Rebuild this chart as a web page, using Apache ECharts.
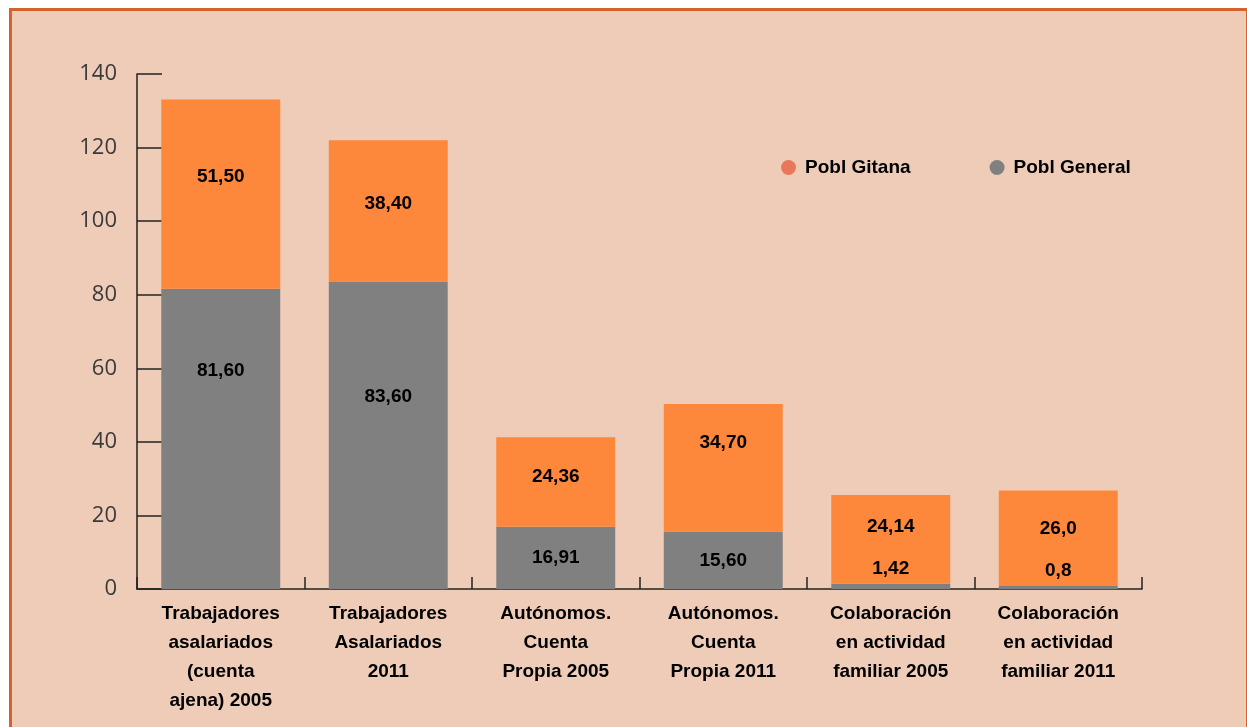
<!DOCTYPE html>
<html>
<head>
<meta charset="utf-8">
<script src="https://cdn.jsdelivr.net/npm/echarts@6/dist/echarts.min.js"></script>
<style>
  html, body { margin: 0; padding: 0; background: #fff; overflow: hidden; }
  .frame {
    position: absolute; left: 9px; top: 8px; width: 1240px; height: 740px;
    background: #eeccb8; border: 3px solid #d4622a; box-sizing: border-box;
  }
  #chart { position: absolute; left: 0; top: 0; width: 1247px; height: 727px; }
</style>
</head>
<body>
<div class="frame"></div>
<div id="chart"></div>
<script>
// categorias y valores
const categories = [
  'Trabajadores\nasalariados\n(cuenta\najena) 2005',
  'Trabajadores\nAsalariados\n2011',
  'Autónomos.\nCuenta\nPropia 2005',
  'Autónomos.\nCuenta\nPropia 2011',
  'Colaboración\nen actividad\nfamiliar 2005',
  'Colaboración\nen actividad\nfamiliar 2011'
]
const poblGeneral = [81.60, 83.60, 16.91, 15.60, 1.42, 0.8]
const poblGitana = [51.50, 38.40, 24.36, 34.70, 24.14, 26.0]
const generalText = ['81,60', '83,60', '16,91', '15,60', '1,42', '0,8']
const gitanaText = ['51,50', '38,40', '24,36', '34,70', '24,14', '26,0']

// desplazamiento vertical de las etiquetas (como en el original)
const generalDy = [-68, -38, 0, 0, -17, -17]
const gitanaDy = [-17, -7, -5, -25, -13, -9]

const labelFont = {
  fontFamily: '"Liberation Sans", Arial, sans-serif',
  fontWeight: 'bold',
  fontSize: 19,
  color: '#000'
}

const chart = echarts.init(document.getElementById('chart'))
chart.setOption({
  backgroundColor: 'transparent',
  animation: false,
  grid: { left: 137, right: 105, top: 74, bottom: 138 },
  legend: {
    top: 153,
    left: 776,
    itemGap: 79,
    icon: 'circle',
    itemWidth: 15,
    itemHeight: 15,
    textStyle: Object.assign({}, labelFont, { padding: [0, 0, 0, 4] }),
    data: [
      { name: 'Pobl Gitana', itemStyle: { color: '#e8785a' } },
      { name: 'Pobl General', itemStyle: { color: '#808080' } }
    ]
  },
  xAxis: {
    type: 'category',
    data: categories,
    axisLine: { lineStyle: { color: '#222', width: 1.5 } },
    axisTick: { show: true, inside: true, length: 12, lineStyle: { color: '#222', width: 1.5 } },
    axisLabel: Object.assign({}, labelFont, { lineHeight: 29, margin: 10, interval: 0 })
  },
  yAxis: {
    type: 'value',
    min: 0,
    max: 140,
    interval: 20,
    splitLine: { show: false },
    axisLine: { show: true, lineStyle: { color: '#222', width: 1.5 } },
    axisTick: { show: true, inside: true, length: 25, lineStyle: { color: '#222', width: 1.5 } },
    axisLabel: { fontFamily: '"Open Sans", sans-serif', fontSize: 22, color: '#3a3a3a', margin: 20 }
  },
  series: [
    {
      name: 'Pobl General',
      type: 'bar',
      stack: 'total',
      barCategoryGap: '29%',
      itemStyle: { color: '#808080' },
      data: poblGeneral.map((v, i) => ({
        value: v,
        label: {
          show: true,
          position: v < 5 ? 'top' : 'inside',
          offset: [0, v < 5 ? generalDy[i] + 16 : generalDy[i]],
          formatter: generalText[i],
          ...labelFont
        }
      }))
    },
    {
      name: 'Pobl Gitana',
      type: 'bar',
      stack: 'total',
      itemStyle: { color: '#fd873a' },
      data: poblGitana.map((v, i) => ({
        value: v,
        label: {
          show: true,
          position: 'inside',
          offset: [0, gitanaDy[i]],
          formatter: gitanaText[i],
          ...labelFont
        }
      }))
    }
  ]
})
</script>
</body>
</html>
